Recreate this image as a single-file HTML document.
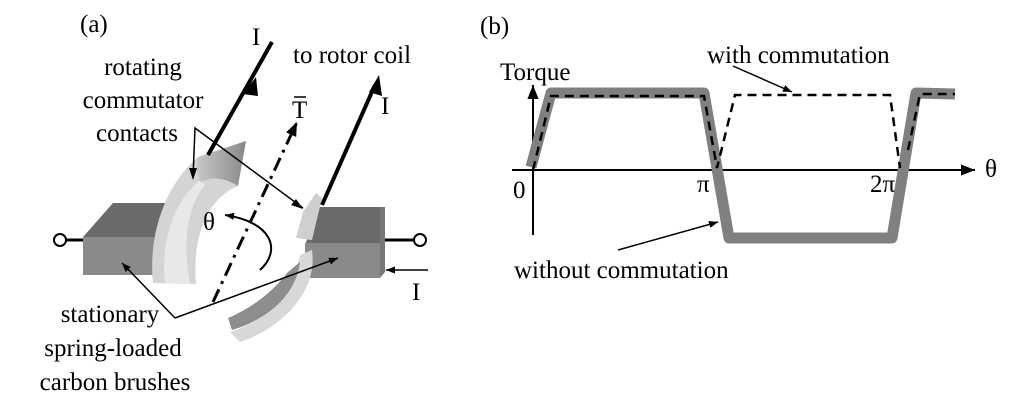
<!DOCTYPE html>
<html><head><meta charset="utf-8"><style>
html,body{margin:0;padding:0;background:#fff;}
svg{display:block;}
</style></head><body>
<svg width="1018" height="402" viewBox="0 0 1018 402" xmlns="http://www.w3.org/2000/svg">
<defs>
<marker id="ah" viewBox="0 0 10 10" refX="10" refY="5" markerWidth="9" markerHeight="9" orient="auto" markerUnits="userSpaceOnUse"><path d="M0,1 L10,5 L0,9 z" fill="#000"/></marker>
<marker id="ahb" viewBox="0 0 10 10" refX="10" refY="5" markerWidth="14" markerHeight="14" orient="auto" markerUnits="userSpaceOnUse"><path d="M0,1 L10,5 L0,9 z" fill="#000"/></marker>
<linearGradient id="gt" x1="0" y1="0" x2="1" y2="0"><stop offset="0" stop-color="#c8c8c8"/><stop offset="1" stop-color="#888"/></linearGradient>
</defs>
<!-- terminals -->
<line x1="66" y1="240" x2="84" y2="240" stroke="#000" stroke-width="3"/>
<circle cx="60" cy="240" r="6" fill="#fff" stroke="#000" stroke-width="2"/>
<line x1="380" y1="240" x2="413" y2="240" stroke="#000" stroke-width="3"/>
<circle cx="420" cy="240" r="6" fill="#fff" stroke="#000" stroke-width="2"/>
<!-- left brush -->
<polygon points="83,237 113,203 175,203 160,237" fill="#6a6a6a"/>
<rect x="83" y="237" width="80" height="38" fill="#8a8a8a"/>
<!-- upper commutator segment -->
<path d="M153,283 C148,235 165,185 198,157 L246,141 C238,160 232,172 238,186 C208,198 192,235 196,284 Z" fill="#d4d4d4"/>
<path d="M165,283 C160,240 175,200 200,180 L205,185 C188,205 182,240 190,284 Z" fill="#e8e8e8"/>
<path d="M198,157 L246,141 L238,186 C225,178 212,176 200,182 C196,172 196,164 198,157 Z" fill="url(#gt)"/>
<!-- right brush -->
<polygon points="305,245 320,207 385,207 380,245" fill="#6a6a6a"/>
<rect x="305" y="243" width="75" height="35" fill="#8a8a8a"/>
<polygon points="380,207 385,207 385,272 380,278" fill="#777"/>
<!-- small right commutator tab -->
<polygon points="303,212 316,193 322,198 312,240 296,238" fill="#cfcfcf"/>
<!-- lower commutator segment -->
<path d="M230,332 C262,322 292,300 300,255 L312,250 C318,292 282,328 240,342 Z" fill="#d8d8d8"/>
<path d="M228,318 C255,306 272,292 288,272 L300,262 C296,296 266,320 232,330 Z" fill="#8d8d8d"/>
<!-- axis dash-dot -->
<line x1="213" y1="302" x2="297" y2="122" stroke="#000" stroke-width="3" stroke-dasharray="14,6,3,6" marker-end="url(#ahb)"/>
<!-- theta arc -->
<path d="M260,270 C282,250 272,222 225,215" fill="none" stroke="#000" stroke-width="2" marker-end="url(#ah)"/>
<!-- current lines -->
<line x1="272" y1="42" x2="208" y2="155" stroke="#000" stroke-width="4"/>
<polygon points="243,94 256,77 258,96" fill="#000"/>
<line x1="322" y1="205" x2="375" y2="85" stroke="#000" stroke-width="4"/>
<polygon points="379,75 369,92 382,96" fill="#000"/>
<!-- callouts -->
<polyline points="193,178 195,128 303,208" fill="none" stroke="#000" stroke-width="1.5"/>
<polygon points="189,168 197,168 193,180" fill="#000"/>
<polygon points="303,209 291,205 296,199" fill="#000"/>
<line x1="175" y1="318" x2="122" y2="263" stroke="#000" stroke-width="1.5" marker-end="url(#ah)"/>
<line x1="175" y1="318" x2="338" y2="258" stroke="#000" stroke-width="1.5" marker-end="url(#ah)"/>
<line x1="428" y1="270" x2="386" y2="270" stroke="#000" stroke-width="1.5" marker-end="url(#ah)"/>
<line x1="294" y1="97" x2="306" y2="97" stroke="#000" stroke-width="1.5"/>
<!-- (b) plot -->
<line x1="512" y1="170" x2="975" y2="170" stroke="#000" stroke-width="2" marker-end="url(#ahb)"/>
<line x1="533" y1="235" x2="533" y2="85" stroke="#000" stroke-width="2" marker-end="url(#ahb)"/>
<polyline points="531,167 551,93 704,93 729,238 892,238 916,93 955,94" fill="none" stroke="#808080" stroke-width="11" stroke-linejoin="round"/>
<polyline points="533,170 551,96 704,96 717,168 735,95 890,95 900,168" fill="none" stroke="#000" stroke-width="2.5" stroke-dasharray="9,6"/>
<polyline points="908,150 920,94 955,94" fill="none" stroke="#000" stroke-width="2.5" stroke-dasharray="9,6"/>
<line x1="733" y1="66" x2="792" y2="92" stroke="#000" stroke-width="1.5" marker-end="url(#ah)"/>
<line x1="618" y1="250" x2="718" y2="222" stroke="#000" stroke-width="1.5" marker-end="url(#ah)"/>
<g font-family="'Liberation Serif','DejaVu Serif',serif" font-size="25" fill="#000">
<text x="80" y="32">(a)</text>
<text x="292" y="118">T</text>
<text x="203" y="230">θ</text>
<text x="252" y="45">I</text>
<text x="381" y="114">I</text>
<text x="293" y="63">to rotor coil</text>
<text x="412" y="300">I</text>
<text x="143" y="75" text-anchor="middle">rotating</text>
<text x="143" y="108" text-anchor="middle">commutator</text>
<text x="137" y="141" text-anchor="middle">contacts</text>
<text x="110" y="322" text-anchor="middle">stationary</text>
<text x="113" y="356" text-anchor="middle">spring-loaded</text>
<text x="115" y="390" text-anchor="middle">carbon brushes</text>
<text x="480" y="34">(b)</text>
<text x="500" y="80">Torque</text>
<text x="707" y="63">with commutation</text>
<text x="514" y="278">without commutation</text>
<text x="985" y="177">θ</text>
<text x="513" y="198">0</text>
<text x="697" y="192">π</text>
<text x="870" y="192">2π</text>
</g>
</svg>
</body></html>
